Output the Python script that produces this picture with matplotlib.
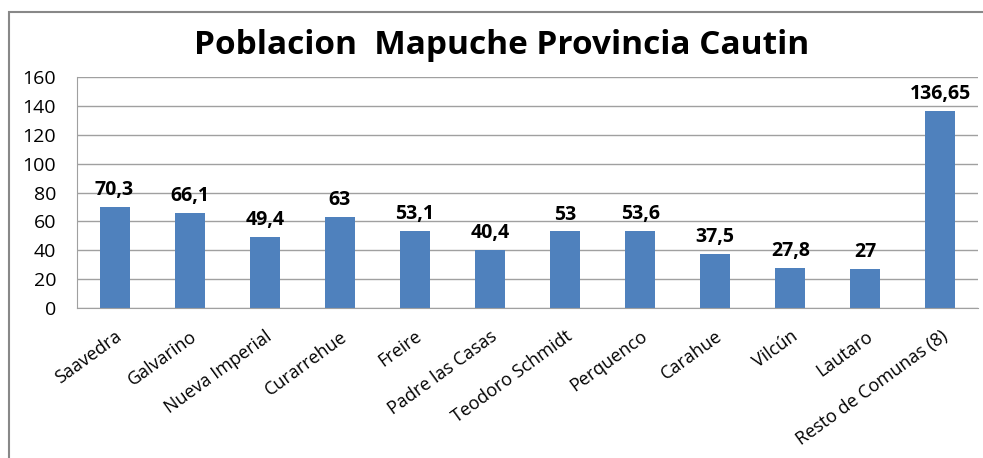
import matplotlib.pyplot as plt
from matplotlib.patches import Rectangle

comunas = [
    "Saavedra", "Galvarino", "Nueva Imperial", "Curarrehue", "Freire",
    "Padre las Casas", "Teodoro Schmidt", "Perquenco", "Carahue",
    "Vilcún", "Lautaro", "Resto de Comunas (8)",
]
valores = [70.3, 66.1, 49.4, 63, 53.1, 40.4, 53, 53.6, 37.5, 27.8, 27, 136.65]
etiquetas = ["70,3", "66,1", "49,4", "63", "53,1", "40,4", "53", "53,6",
             "37,5", "27,8", "27", "136,65"]
yticks = [0, 20, 40, 60, 80, 100, 120, 140, 160]

plt.rcParams["font.family"] = ["Open Sans", "DejaVu Sans"]

W, H = 983, 458
fig = plt.figure(figsize=(W / 100, H / 100), dpi=100)

# marco del grafico (cortado a la derecha y abajo)
fig.patches.append(Rectangle((9 / W, -0.1), 1.1, 1 - 12 / H + 0.1,
                             transform=fig.transFigure, fill=False,
                             edgecolor="#888888", linewidth=1.5))

ax = fig.add_axes([77 / W, 1 - 308 / H, (978 - 77) / W, (308 - 77) / H])
x = range(len(comunas))
ax.bar(x, valores, width=0.4, color="#4F81BD", zorder=2)
ax.set_xlim(-0.5, len(comunas) - 0.5)
ax.set_ylim(0, 160)
ax.set_yticks(yticks)
ax.set_yticklabels([str(v) for v in yticks], fontsize=14)
ax.grid(axis="y", color="#a0a0a0", linewidth=1, zorder=0)
ax.tick_params(axis="y", length=0, pad=15)
ax.tick_params(axis="x", length=0, pad=14)
for s in ["top", "right"]:
    ax.spines[s].set_visible(False)
for s in ["left", "bottom"]:
    ax.spines[s].set_color("#a0a0a0")

ax.set_xticks(list(x))
ax.set_xticklabels(comunas, rotation=36, ha="right", rotation_mode="anchor",
                   fontsize=13)

for i, (v, t) in enumerate(zip(valores, etiquetas)):
    ax.annotate(t, (i, v), xytext=(0, 5), textcoords="offset points",
                ha="center", va="bottom", fontsize=14, fontweight="bold")

fig.text(502 / W, 1 - 46 / H, "Poblacion  Mapuche Provincia Cautin",
         ha="center", va="center", fontsize=24, fontweight="bold")

fig.savefig("out.png", dpi=100)
